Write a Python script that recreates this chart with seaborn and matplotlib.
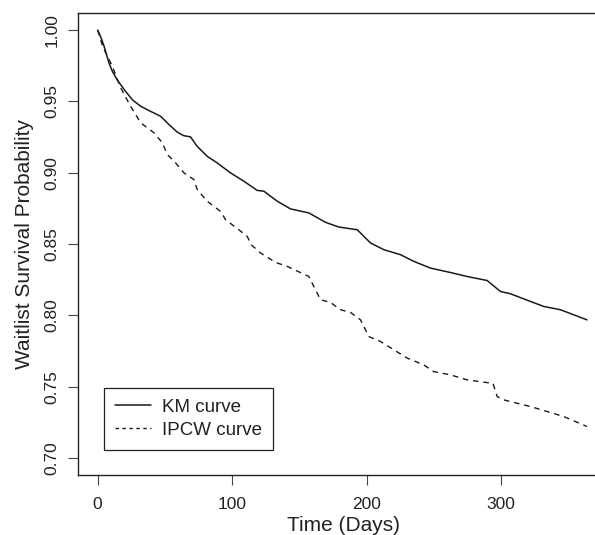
import matplotlib
matplotlib.use("Agg")
import matplotlib.pyplot as plt
import seaborn as sns
import pandas as pd

# ---- data ----
km_time = [0, 2, 4.7, 8.4, 11, 14.6, 20.8, 26, 32, 39.4, 46.8, 53, 59.3, 64, 69.1,
           74, 81.5, 88.9, 98.8, 108.8, 118.7, 123.7, 133.6, 143.5, 157.1, 169.5,
           179.4, 193.1, 203, 212.9, 225.3, 235.2, 247.6, 262.5, 274.9, 289.7,
           299.6, 307, 322, 331.8, 344.2, 364]
km_surv = [1.000, 0.996, 0.989, 0.977, 0.971, 0.965, 0.957, 0.951, 0.9466, 0.943,
           0.9396, 0.9338, 0.9284, 0.926, 0.9251, 0.9185, 0.9115, 0.9069, 0.8999,
           0.894, 0.8876, 0.887, 0.880, 0.8746, 0.8718, 0.8652, 0.8619, 0.860,
           0.8507, 0.846, 0.8425, 0.8378, 0.8331, 0.830, 0.8272, 0.8244, 0.8167,
           0.8151, 0.8097, 0.8062, 0.8039, 0.7968]

ipcw_time = [0, 4, 10.9, 17.1, 24.5, 32, 41.9, 48.1, 51.9, 58, 64.2, 71.6, 74.1,
             81.5, 91.4, 95.2, 105, 111.3, 114.2, 121.2, 132.3, 141, 157.1, 160.8,
             165.8, 173.2, 180.7, 188.1, 195.5, 201.7, 210.4, 220.3, 230.2, 242.6,
             250, 262.5, 274.9, 289.7, 294, 297.2, 302, 322, 346.7, 364]
ipcw_surv = [1.000, 0.988, 0.9747, 0.9596, 0.9466, 0.935, 0.928, 0.921, 0.9127,
             0.9069, 0.8999, 0.8952, 0.8881, 0.880, 0.8729, 0.867, 0.860, 0.8553,
             0.8495, 0.8437, 0.8371, 0.8343, 0.8272, 0.8202, 0.8109, 0.809, 0.8039,
             0.802, 0.7968, 0.7851, 0.7816, 0.7758, 0.770, 0.7652, 0.7605, 0.7582,
             0.7547, 0.7528, 0.7524, 0.743, 0.7407, 0.736, 0.729, 0.722]

series_names = ["KM curve", "IPCW curve"]
x_ticks = [0, 100, 200, 300]
y_ticks = [0.70, 0.75, 0.80, 0.85, 0.90, 0.95, 1.00]
y_tick_labels = ["0.70", "0.75", "0.80", "0.85", "0.90", "0.95", "1.00"]

sns.set_theme(style="ticks")
plt.rcParams['font.family'] = ['Liberation Sans', 'DejaVu Sans']

fig = plt.figure(figsize=(5.95, 5.35), dpi=100)
ax = fig.add_axes([78 / 595, 60 / 535, (608 - 78) / 595, (475 - 13) / 535])

df_km = pd.DataFrame({"time": km_time, "surv": km_surv})
df_ip = pd.DataFrame({"time": ipcw_time, "surv": ipcw_surv})

sns.lineplot(data=df_km, x="time", y="surv", ax=ax, color="#1a1a1a", lw=1.1,
             estimator=None, sort=False, label=series_names[0])
sns.lineplot(data=df_ip, x="time", y="surv", ax=ax, color="#1a1a1a", lw=1.0,
             estimator=None, sort=False, label=series_names[1], dashes=False)
ax.lines[1].set_dashes((4, 3.5))

ax.set_xlim(-14.6, 379.6)
ax.set_ylim(0.688, 1.012)
ax.set_xticks(x_ticks)
ax.set_xticklabels([str(t) for t in x_ticks])
ax.set_yticks(y_ticks)
ax.set_yticklabels(y_tick_labels, rotation=90, va="center")

for s in ax.spines.values():
    s.set_color("#222222")
    s.set_linewidth(1.0)

ax.tick_params(axis="both", direction="out", length=7.3, width=0.8,
               color="#444444", labelsize=12.5, labelcolor="#222222")
ax.tick_params(axis="x", pad=8.5)
ax.tick_params(axis="y", pad=6.0)

ax.set_xlabel("Time (Days)", fontsize=15, color="#222222")
ax.set_ylabel("Waitlist Survival Probability", fontsize=15, color="#222222")
ax.xaxis.set_label_coords(0.5, (475 - 516) / 462)
ax.yaxis.set_label_coords((34 - 78) / 530, 0.5)

leg = ax.legend(loc="lower left", bbox_to_anchor=(26 / 530, 25 / 462),
                borderaxespad=0, fontsize=13.5, frameon=True, fancybox=False,
                handlelength=1.9, handletextpad=0.6, labelspacing=0.3,
                borderpad=0.6)
leg.get_frame().set_edgecolor("#222222")
leg.get_frame().set_linewidth(0.9)
leg.get_frame().set_alpha(1)
for h in leg.get_lines():
    h.set_color("#1a1a1a")
leg.get_lines()[1].set_dashes((2.5, 2.5))
for t in leg.get_texts():
    t.set_color("#222222")

fig.savefig("out.png", dpi=100)
